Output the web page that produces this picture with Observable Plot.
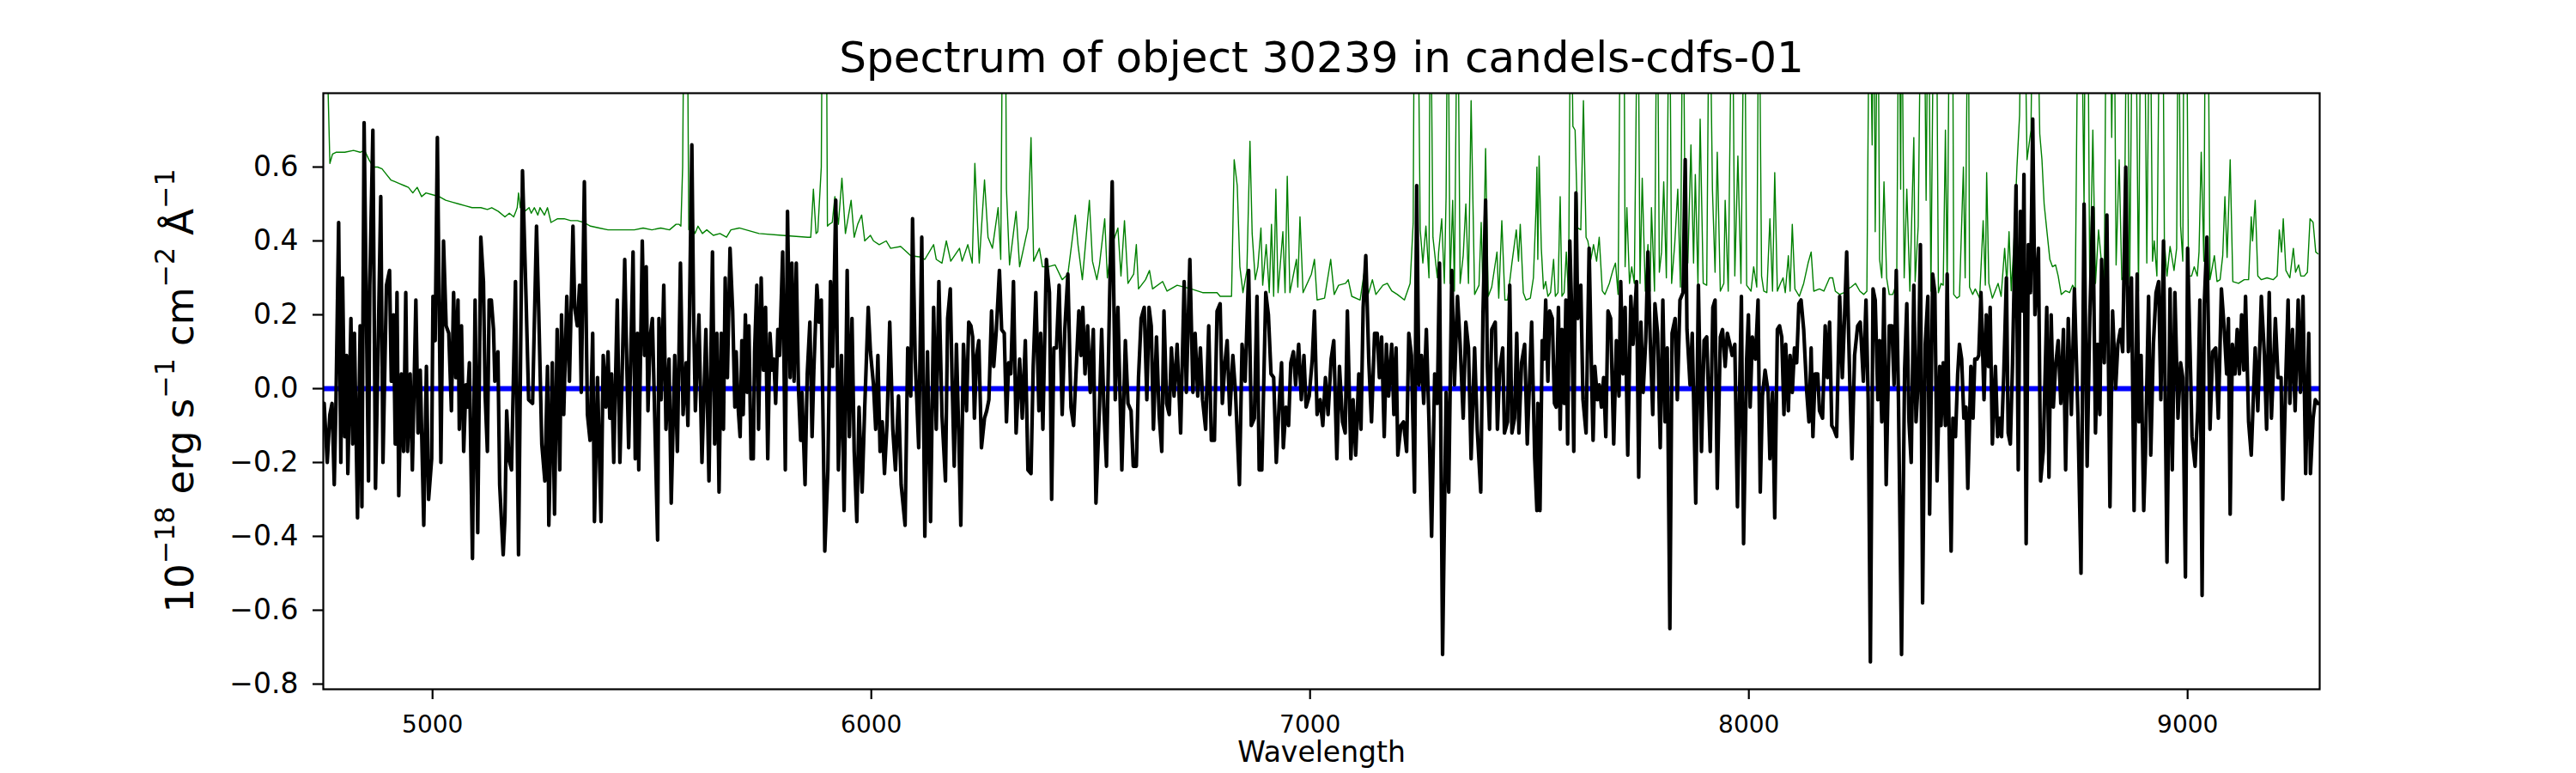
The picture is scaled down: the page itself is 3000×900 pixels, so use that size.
<!DOCTYPE html>
<html>
<head>
<meta charset="utf-8">
<script src="https://cdn.jsdelivr.net/npm/d3@7"></script>
<script src="https://cdn.jsdelivr.net/npm/@observablehq/plot@0.6"></script>
<style>
  html, body { margin: 0; padding: 0; background: #fff; }
  #chart svg { display: block; }
</style>
</head>
<body>
<div id="chart"></div>
<script>
// ---- Text ----
const titleText = ["Spectrum of object 30239 in candels-cdfs-01"];
const xLabelText = ["Wavelength"];

// ---- Ticks ----
const xTicks = [5000, 6000, 7000, 8000, 9000];
const yTicks = [-0.8, -0.6, -0.4, -0.2, 0.0, 0.2, 0.4, 0.6];
const xDomain = [4751, 9301];
const yDomain = [-0.814, 0.80];
const zeroLevel = [0];

// ---- Flux spectrum (black), [wavelength Å, flux] ----
const fluxA = [[4753,-0.04],[4760,-0.20],[4766,-0.07],[4771,-0.04],[4776,-0.26],[4780,-0.03],[4786,0.45],[4791,-0.20],[4795,0.30],[4800,-0.13],[4804,0.09],[4807,-0.23],[4814,0.19],[4818,-0.15],[4822,0.15],[4829,-0.35],[4835,0.17],[4839,-0.32],[4844,0.72],[4850,0.13],[4854,-0.25],[4857,0.28],[4864,0.70],[4870,-0.27],[4877,0.18],[4882,0.52],[4887,-0.20],[4895,0.28],[4902,0.32],[4906,0.02],[4911,0.20],[4915,-0.15],[4919,0.26],[4923,-0.29],[4929,0.04],[4934,-0.17],[4939,0.26],[4943,-0.17],[4949,0.04],[4954,-0.22],[4962,0.24],[4967,-0.12],[4972,0.05],[4980,-0.37],[4986,0.06],[4991,-0.30],[4998,-0.19],[5001,0.25],[5006,0.13],[5011,0.68],[5019,-0.20],[5025,0.40],[5031,0.17],[5037,0.15],[5043,-0.06],[5048,0.26],[5053,0.03],[5058,0.24],[5061,-0.11],[5066,0.17],[5071,-0.17],[5076,0.01],[5079,-0.05],[5084,0.07],[5091,-0.46],[5097,0.24],[5103,-0.39],[5110,0.41],[5116,0.29],[5120,-0.02],[5125,-0.17],[5129,0.24],[5134,0.24],[5139,0.16],[5142,0.02],[5149,0.10],[5153,-0.26],[5161,-0.45],[5165,-0.35],[5169,-0.06],[5174,-0.19],[5180,-0.22],[5189,0.29],[5196,-0.45],[5205,0.59],[5213,0.25],[5219,-0.03],[5228,-0.04],[5237,0.44],[5242,0.21],[5249,-0.15],[5256,-0.25],[5262,0.06],[5265,-0.37],[5273,0.07],[5278,-0.34],[5284,0.16],[5290,-0.22],[5294,0.20],[5299,-0.07],[5306,0.25],[5312,0.02],[5320,0.44],[5324,0.22],[5330,0.17],[5335,0.28],[5339,-0.01],[5346,0.56],[5353,-0.07],[5359,-0.14],[5365,0.15],[5369,-0.36],[5376,0.03],[5384,-0.36],[5389,0.09],[5395,-0.05],[5400,0.10],[5404,-0.08],[5408,0.04],[5413,-0.20],[5421,0.24],[5427,-0.20],[5432,0.03],[5438,0.35],[5443,0.05],[5447,-0.16],[5457,0.37],[5462,-0.19],[5467,0.15],[5470,-0.22],[5478,0.40],[5483,0.09],[5487,0.33],[5491,-0.06],[5496,0.14],[5501,0.19],[5506,-0.06],[5513,-0.41],[5516,0.19],[5521,-0.03],[5527,0.28],[5532,-0.11],[5539,0.08],[5544,-0.31],[5552,0.09],[5558,-0.17],[5565,0.34],[5571,-0.07],[5578,0.07],[5582,-0.10],[5591,0.66],[5595,0.20],[5599,-0.06],[5607,0.20],[5614,-0.20],[5623,0.16],[5630,-0.25],[5638,0.37],[5643,-0.15],[5648,0.15],[5653,-0.28],[5658,0.15],[5663,-0.11],[5667,0.30],[5672,0.03],[5678,0.38]];

const fluxB = [[5684,0.21],[5689,-0.05],[5692,0.10],[5697,-0.06],[5701,-0.13],[5705,0.13],[5708,-0.07],[5713,0.20],[5717,-0.01],[5721,0.17],[5726,-0.19],[5731,-0.19],[5734,0.10],[5739,0.28],[5743,-0.11],[5749,0.30],[5754,0.05],[5759,0.22],[5764,-0.19],[5769,0.15],[5774,0.05],[5778,0.08],[5782,-0.04],[5787,0.16],[5791,0.09],[5798,0.37],[5804,-0.22],[5809,0.48],[5815,0.03],[5819,0.34],[5824,0.02],[5829,0.34],[5834,0.00],[5839,-0.14],[5842,-0.01],[5849,-0.26],[5854,0.04],[5860,0.18],[5865,-0.13],[5869,0.05],[5876,0.28],[5881,0.18],[5886,0.24],[5891,-0.17],[5894,-0.44],[5901,-0.22],[5907,0.29],[5912,0.06],[5919,0.51],[5925,-0.22],[5932,0.09],[5938,-0.33],[5945,0.32],[5950,-0.13],[5956,0.19],[5961,-0.17],[5967,-0.36],[5972,-0.05],[5979,-0.28],[5985,-0.05],[5993,0.22],[5998,0.10],[6005,0.01],[6010,-0.11],[6015,0.09],[6020,-0.17],[6025,-0.09],[6030,-0.23],[6036,-0.09],[6042,0.18],[6049,-0.11],[6055,-0.22],[6062,-0.02],[6068,-0.26],[6077,-0.37],[6083,0.11],[6090,-0.02],[6094,0.46],[6100,0.08],[6108,-0.16],[6115,0.41],[6122,-0.40],[6128,0.10],[6135,-0.36],[6142,0.22],[6148,-0.11],[6154,0.29],[6161,-0.07],[6169,-0.25],[6174,0.19],[6180,0.27],[6184,0.03],[6189,-0.21],[6194,0.12],[6199,-0.11],[6204,-0.37],[6210,0.12],[6217,-0.06],[6222,0.18],[6227,0.17],[6231,0.14],[6235,-0.08],[6240,0.09],[6245,0.13],[6251,-0.16],[6258,-0.08],[6263,-0.06],[6268,-0.03],[6274,0.21],[6279,0.06],[6285,0.16],[6292,0.32],[6297,0.16],[6303,0.15],[6308,-0.09],[6313,0.07],[6318,0.04],[6324,0.29],[6330,-0.12],[6338,0.08],[6344,-0.08],[6351,0.13],[6357,-0.22],[6364,-0.23],[6369,0.06],[6375,0.26],[6382,-0.06],[6386,0.15],[6391,-0.11],[6399,0.35],[6406,0.26],[6411,-0.30],[6416,0.11],[6422,0.11],[6428,0.28],[6435,-0.07],[6441,0.16],[6448,0.31],[6455,-0.05],[6461,-0.10],[6468,0.08],[6473,0.21],[6478,0.09],[6482,0.22],[6487,0.04],[6493,0.17],[6499,-0.01],[6506,0.16],[6512,-0.31],[6520,-0.05],[6525,0.16],[6530,-0.05],[6536,-0.21],[6543,0.24],[6549,0.56],[6556,-0.03],[6562,0.22],[6571,-0.22],[6579,0.13],[6585,-0.04],[6592,-0.06],[6597,-0.21]];

const fluxC = [[6604,-0.21],[6609,0.03],[6615,0.19],[6622,0.22],[6628,-0.03],[6633,0.22],[6638,0.17],[6643,-0.11],[6650,0.14],[6656,-0.07],[6662,-0.17],[6667,0.21],[6673,-0.04],[6679,-0.07],[6684,0.11],[6690,-0.02],[6697,0.12],[6705,-0.12],[6713,0.29],[6718,-0.01],[6726,0.35],[6733,-0.01],[6738,0.15],[6744,-0.02],[6750,0.11],[6755,-0.03],[6762,-0.11],[6769,0.17],[6775,-0.14],[6782,-0.14],[6788,0.21],[6795,0.23],[6800,-0.04],[6806,0.07],[6811,0.13],[6817,-0.07],[6824,0.09],[6830,-0.01],[6839,-0.26],[6845,0.12],[6852,0.02],[6860,0.32],[6866,-0.10],[6873,-0.08],[6879,0.25],[6884,-0.22],[6890,-0.22],[6899,0.26],[6905,0.20],[6911,0.04],[6917,0.03],[6923,-0.20],[6930,-0.03],[6935,0.07],[6939,-0.16],[6945,-0.05],[6951,-0.10],[6956,0.07],[6962,0.10],[6967,0.01],[6974,0.12],[6980,-0.03],[6986,0.09],[6991,-0.05],[6998,-0.02],[7005,0.08],[7010,0.21],[7016,-0.07],[7023,-0.03],[7029,-0.10],[7035,0.03],[7041,-0.07],[7048,0.08],[7054,0.13],[7061,-0.19],[7067,0.06],[7074,-0.09],[7080,-0.12],[7085,0.21],[7093,-0.19],[7098,-0.03],[7104,-0.18],[7111,0.04],[7116,-0.11],[7121,0.22],[7127,0.36],[7134,0.07],[7140,-0.09],[7147,0.15],[7153,0.15],[7158,0.03],[7163,0.14],[7169,-0.13],[7174,0.12],[7179,-0.02],[7186,0.12],[7191,-0.07],[7196,0.11],[7200,-0.18],[7207,-0.10],[7213,-0.09],[7220,-0.17],[7225,0.15],[7231,0.09],[7238,-0.28],[7243,0.55],[7248,0.01],[7254,0.09],[7259,-0.04],[7265,0.16],[7271,-0.09],[7277,-0.40],[7284,0.04],[7290,-0.04],[7295,0.34],[7302,-0.72],[7310,-0.01],[7316,-0.28],[7323,0.32],[7329,0.01],[7336,0.25],[7342,0.12],[7349,-0.08],[7355,0.18],[7361,0.11],[7367,-0.19],[7375,0.11],[7381,-0.11],[7389,-0.28],[7394,0.20],[7400,0.51],[7404,0.06],[7409,-0.11],[7414,0.16],[7422,0.18],[7427,-0.11],[7432,0.05],[7439,0.11],[7443,-0.12],[7450,-0.09],[7455,0.28],[7460,-0.12],[7466,-0.08],[7471,0.15],[7476,-0.12],[7482,0.07],[7489,0.12],[7495,-0.15],[7505,0.18],[7512,-0.19],[7517,-0.33]];

const fluxD = [[7519,-0.04],[7524,-0.33],[7529,0.13],[7533,0.08],[7537,0.24],[7542,0.02],[7546,0.21],[7552,0.19],[7557,-0.04],[7561,-0.05],[7566,0.22],[7570,-0.11],[7574,0.16],[7579,-0.04],[7583,0.24],[7587,-0.15],[7592,0.40],[7596,0.22],[7601,-0.17],[7606,0.53],[7610,0.19],[7617,0.28],[7622,-0.03],[7629,-0.12],[7636,0.38],[7642,0.01],[7645,-0.14],[7649,0.06],[7655,-0.03],[7659,0.01],[7664,-0.05],[7669,0.03],[7674,-0.13],[7679,0.21],[7685,0.19],[7692,-0.15],[7698,0.13],[7704,-0.02],[7708,0.29],[7713,0.04],[7718,0.22],[7724,-0.18],[7731,0.25],[7736,0.12],[7744,0.29],[7749,-0.24],[7754,0.18],[7759,-0.01],[7765,0.13],[7770,0.37],[7775,0.14],[7781,-0.07],[7786,0.23],[7792,0.15],[7798,-0.16],[7804,0.24],[7809,-0.09],[7814,0.11],[7820,-0.65],[7825,0.15],[7832,0.19],[7837,-0.03],[7843,0.24],[7850,0.26],[7855,0.62],[7859,0.16],[7866,0.01],[7871,0.15],[7879,-0.31],[7885,0.28],[7892,-0.17],[7898,0.13],[7904,0.14],[7912,-0.17],[7918,0.22],[7923,0.24],[7928,-0.27],[7935,0.14],[7940,0.16],[7946,0.06],[7951,0.15],[7957,0.12],[7962,0.09],[7968,0.12],[7974,-0.32],[7983,0.25],[7988,-0.42],[7995,0.08],[7999,0.20],[8003,-0.05],[8008,0.14],[8015,0.08],[8021,0.24],[8026,-0.28],[8031,-0.02],[8037,0.05],[8044,-0.01],[8048,-0.19],[8054,-0.01],[8059,-0.35],[8065,0.16],[8070,0.17],[8075,0.14],[8080,-0.07],[8084,0.12],[8090,-0.06],[8094,0.09],[8099,-0.01],[8104,0.11],[8109,0.07],[8114,0.23],[8119,0.24],[8125,0.16],[8132,-0.01],[8137,-0.09],[8142,0.11],[8146,-0.13],[8151,0.04],[8157,0.04],[8161,-0.06],[8168,-0.08],[8174,0.17],[8179,0.03],[8184,0.18],[8189,-0.10],[8194,-0.11],[8200,-0.13],[8207,0.25],[8213,0.03],[8218,0.19],[8223,0.37],[8230,0.02],[8235,-0.19],[8241,0.09],[8248,0.17],[8254,0.18],[8261,0.02],[8267,0.24],[8272,-0.03],[8277,-0.74],[8283,0.27],[8288,0.24],[8294,-0.03],[8298,0.13],[8303,-0.09],[8308,0.27],[8313,-0.26],[8320,0.17],[8326,0.17],[8331,0.01],[8336,0.32],[8341,-0.03],[8348,-0.72],[8355,0.05],[8360,0.23],[8365,-0.09],[8370,-0.20],[8376,0.28],[8381,-0.09],[8386,0.02],[8391,0.39],[8396,-0.58],[8402,0.12],[8408,0.25],[8412,-0.34],[8419,0.31],[8424,0.26],[8429,-0.25],[8435,0.06]];

const fluxE = [[8438,-0.10],[8443,0.07],[8448,-0.10],[8452,0.31],[8456,-0.08],[8461,-0.44],[8465,-0.08],[8471,-0.13],[8476,0.04],[8480,0.12],[8485,0.08],[8490,-0.08],[8495,-0.05],[8499,-0.27],[8503,-0.09],[8506,0.06],[8511,-0.08],[8515,0.08],[8520,0.08],[8524,0.09],[8529,0.26],[8536,-0.03],[8541,0.20],[8546,0.06],[8550,0.22],[8555,-0.15],[8562,0.06],[8567,-0.13],[8572,-0.08],[8576,-0.13],[8581,0.04],[8587,0.30],[8591,-0.12],[8596,-0.15],[8601,0.07],[8609,0.55],[8614,-0.22],[8619,0.48],[8624,0.21],[8627,0.58],[8632,-0.42],[8637,0.39],[8642,0.26],[8647,0.73],[8652,0.20],[8660,0.38],[8665,-0.25],[8671,-0.17],[8679,0.22],[8684,-0.24],[8689,0.20],[8694,-0.05],[8699,0.06],[8705,0.13],[8711,-0.04],[8717,0.16],[8722,-0.22],[8728,0.19],[8735,-0.07],[8742,0.27],[8750,-0.07],[8757,-0.50],[8764,0.50],[8771,-0.21],[8777,0.19],[8784,0.49],[8790,-0.12],[8795,0.12],[8800,-0.07],[8804,0.35],[8810,0.07],[8816,0.47],[8823,-0.32],[8829,0.21],[8836,0.00],[8841,0.12],[8847,0.16],[8852,0.10],[8859,0.60],[8865,0.10],[8872,0.30],[8878,-0.33],[8885,0.31],[8889,-0.09],[8894,0.09],[8900,-0.33],[8904,-0.17],[8911,0.25],[8916,-0.18],[8922,0.12],[8928,0.26],[8934,0.29],[8939,-0.03],[8945,0.40],[8953,-0.47],[8960,0.27],[8965,-0.22],[8971,0.26],[8978,-0.08],[8984,0.07],[8989,0.03],[8995,-0.51],[9000,0.38],[9007,0.03],[9010,-0.13],[9017,-0.21],[9023,-0.06],[9028,0.24],[9033,-0.56],[9038,0.23],[9044,0.41],[9051,-0.11],[9057,0.10],[9064,0.11],[9070,-0.08],[9077,0.27],[9083,0.17],[9089,0.04],[9093,0.19],[9097,-0.34],[9102,0.12],[9108,0.04],[9113,0.16],[9118,0.04],[9123,0.20],[9128,0.05],[9132,0.25],[9139,-0.09],[9145,-0.18],[9154,0.11],[9160,-0.06],[9168,0.25],[9175,0.09],[9180,-0.11],[9186,0.26],[9191,-0.08],[9200,0.19],[9206,0.03],[9213,0.03],[9217,-0.30],[9224,0.04],[9229,0.24],[9233,-0.04],[9239,0.16],[9245,-0.06],[9252,0.24],[9257,-0.01],[9263,0.25],[9269,-0.23],[9276,0.15],[9280,-0.23],[9286,-0.08],[9291,-0.03],[9297,-0.04]];

// ---- Error spectrum (green), [wavelength Å, error]; sky-line peaks run past the top ----
const errA = [[4752,1.2],[4760,0.9],[4766,0.61],[4772,0.635],[4780,0.64],[4800,0.64],[4820,0.645],[4835,0.64],[4845,0.645],[4855,0.62],[4865,0.60],[4875,0.60],[4885,0.595],[4895,0.58],[4905,0.565],[4915,0.56],[4925,0.555],[4935,0.55],[4945,0.545],[4955,0.53],[4965,0.545],[4975,0.52],[4985,0.53],[5000,0.525],[5015,0.52],[5030,0.51],[5045,0.505],[5060,0.50],[5075,0.495],[5090,0.49],[5110,0.49],[5125,0.485],[5135,0.49],[5150,0.48],[5165,0.465],[5175,0.475],[5185,0.465],[5190,0.48],[5193,0.49],[5196,0.53],[5200,0.49],[5210,0.48],[5220,0.49],[5225,0.475],[5232,0.49],[5240,0.47],[5245,0.49],[5255,0.47],[5262,0.49],[5270,0.45],[5285,0.46],[5300,0.46],[5315,0.455],[5330,0.455],[5345,0.45],[5360,0.44],[5380,0.435],[5400,0.43],[5420,0.43],[5440,0.43],[5460,0.43],[5480,0.435],[5500,0.43],[5520,0.435],[5540,0.43],[5555,0.445],[5562,0.445],[5566,0.44],[5570,0.60],[5574,1.2],[5580,1.2],[5584,0.43],[5590,0.45],[5598,0.42],[5605,0.44],[5615,0.42],[5625,0.43],[5640,0.415],[5655,0.42],[5670,0.41],[5680,0.43]];

const errB = [[5699,0.435],[5744,0.42],[5796,0.415],[5855,0.41],[5862,0.41],[5868,0.54],[5874,0.42],[5878,0.425],[5886,0.60],[5889,1.2],[5897,1.2],[5900,0.44],[5904,0.445],[5911,0.45],[5917,0.52],[5925,0.445],[5933,0.57],[5941,0.42],[5954,0.51],[5961,0.41],[5969,0.445],[5978,0.47],[5985,0.40],[5998,0.415],[6005,0.40],[6018,0.39],[6034,0.40],[6044,0.38],[6067,0.385],[6090,0.36],[6109,0.357],[6122,0.35],[6142,0.39],[6148,0.35],[6161,0.34],[6171,0.40],[6181,0.345],[6201,0.38],[6207,0.345],[6220,0.39],[6230,0.34],[6236,0.61],[6246,0.34],[6258,0.565],[6266,0.41],[6276,0.38],[6289,0.49],[6295,0.35],[6300,1.2],[6305,1.2],[6308,0.54],[6315,0.335],[6330,0.48],[6338,0.33],[6357,0.435],[6364,0.68],[6370,0.345],[6383,0.38],[6390,0.33],[6403,0.33],[6419,0.335],[6435,0.295],[6448,0.31],[6465,0.47],[6471,0.39],[6481,0.295],[6497,0.51],[6504,0.345],[6514,0.295],[6520,0.335],[6532,0.46],[6538,0.30],[6546,0.38],[6562,0.435],[6569,0.305],[6577,0.455],[6585,0.285],[6598,0.31]];

const errC = [[6604,0.39],[6609,0.27],[6625,0.295],[6634,0.32],[6641,0.27],[6664,0.29],[6674,0.264],[6697,0.28],[6729,0.27],[6755,0.26],[6788,0.26],[6795,0.25],[6821,0.25],[6827,0.62],[6834,0.55],[6840,0.33],[6847,0.26],[6856,0.32],[6863,0.67],[6868,0.42],[6875,0.295],[6881,0.33],[6888,0.435],[6892,0.28],[6900,0.39],[6907,0.26],[6912,0.445],[6917,0.25],[6922,0.54],[6927,0.26],[6938,0.425],[6943,0.26],[6948,0.575],[6954,0.26],[6969,0.35],[6972,0.275],[6977,0.465],[6984,0.26],[7003,0.31],[7010,0.35],[7016,0.24],[7033,0.245],[7047,0.35],[7055,0.255],[7065,0.28],[7081,0.285],[7087,0.295],[7095,0.25],[7114,0.24],[7124,0.32],[7130,0.245],[7142,0.295],[7150,0.255],[7166,0.28],[7176,0.285],[7186,0.265],[7199,0.255],[7215,0.24],[7228,0.285],[7235,0.45],[7238,1.2],[7245,1.2],[7251,0.43],[7257,0.34],[7264,0.44],[7271,0.30],[7274,1.2],[7280,0.41],[7290,0.30],[7293,0.37],[7300,0.46],[7306,0.285],[7310,0.52],[7314,1.2],[7319,0.285],[7325,0.51],[7329,0.264],[7336,1.2],[7342,0.285],[7349,0.36],[7355,0.50],[7361,0.285],[7367,0.78],[7375,0.255],[7385,0.28],[7390,0.45],[7394,0.26],[7400,0.65],[7406,0.25],[7414,0.275],[7426,0.37],[7430,0.245],[7437,0.455],[7444,0.24],[7450,0.24],[7460,0.34],[7470,0.43],[7475,0.345],[7479,0.445],[7486,0.26],[7492,0.24],[7502,0.245],[7509,0.30],[7515,0.49],[7517,0.6]];

const errD = [[7519,0.35],[7522,0.63],[7527,0.38],[7532,0.27],[7537,0.29],[7542,0.25],[7548,0.26],[7555,0.35],[7559,0.25],[7565,0.26],[7570,0.52],[7574,0.25],[7579,0.26],[7584,0.37],[7589,0.25],[7594,1.2],[7599,0.71],[7604,0.70],[7610,0.435],[7617,0.43],[7623,0.78],[7629,0.41],[7633,0.40],[7640,0.35],[7646,0.39],[7653,0.345],[7659,0.41],[7666,0.265],[7672,0.255],[7682,0.285],[7690,0.32],[7696,0.34],[7702,0.255],[7708,1.2],[7715,1.2],[7718,0.33],[7722,0.49],[7728,0.285],[7733,0.33],[7739,0.285],[7747,1.2],[7752,0.285],[7757,0.57],[7764,0.264],[7770,0.39],[7775,0.264],[7778,0.49],[7785,0.264],[7791,1.2],[7796,0.315],[7801,0.37],[7806,0.56],[7812,0.30],[7819,1.2],[7824,0.285],[7831,0.39],[7838,0.54],[7844,0.275],[7850,1.2],[7855,0.39],[7861,0.34],[7868,0.66],[7874,0.34],[7878,0.58],[7884,0.285],[7889,0.73],[7896,0.285],[7904,0.28],[7910,1.2],[7917,0.54],[7923,0.315],[7928,0.64],[7935,0.264],[7943,0.285],[7946,0.51],[7953,0.264],[7962,1.2],[7968,0.305],[7975,0.63],[7982,0.285],[7990,1.2],[7995,0.28],[8005,0.264],[8011,0.33],[8018,0.275],[8023,1.2],[8029,0.305],[8034,0.264],[8041,0.26],[8048,0.46],[8054,0.264],[8059,0.585],[8065,0.264],[8072,0.285],[8078,0.30],[8083,0.26],[8090,0.36],[8094,0.264],[8099,0.445],[8105,0.27],[8115,0.25],[8125,0.285],[8135,0.34],[8142,0.37],[8148,0.264],[8161,0.27],[8171,0.264],[8184,0.30],[8191,0.30],[8197,0.264],[8207,0.255],[8217,0.26],[8226,0.27],[8233,0.275],[8243,0.285],[8253,0.264],[8262,0.255],[8269,0.264],[8275,1.2],[8281,0.66],[8285,1.2],[8288,0.425],[8294,1.2],[8298,0.35],[8303,0.30],[8308,0.56],[8314,0.30],[8320,0.255],[8328,0.255],[8337,0.285],[8342,1.2],[8346,0.54],[8348,1.2],[8354,0.30],[8360,0.54],[8367,0.264],[8376,0.68],[8379,0.29],[8386,0.44],[8393,1.2],[8399,1.2],[8404,0.51],[8409,1.2],[8415,0.264],[8422,1.2],[8427,1.2],[8432,0.26],[8438,0.285]];

const errE = [[8443,0.28],[8448,0.70],[8452,0.275],[8458,1.2],[8464,1.2],[8467,0.255],[8474,0.245],[8480,0.25],[8489,0.60],[8493,0.30],[8500,1.2],[8503,0.275],[8510,0.255],[8516,0.27],[8526,0.245],[8534,0.455],[8539,0.28],[8542,0.585],[8547,0.285],[8555,0.245],[8568,0.285],[8575,0.25],[8583,0.38],[8588,0.285],[8593,0.425],[8598,0.265],[8604,0.39],[8611,0.60],[8617,0.74],[8622,1.2],[8627,1.2],[8634,0.62],[8643,0.70],[8648,1.2],[8656,1.2],[8663,0.69],[8668,0.62],[8673,0.50],[8679,0.43],[8686,0.35],[8692,0.33],[8699,0.335],[8705,0.305],[8712,0.255],[8722,0.265],[8731,0.26],[8738,0.28],[8744,0.265],[8751,1.2],[8757,1.2],[8764,0.49],[8767,1.2],[8772,1.2],[8777,0.265],[8784,0.70],[8790,0.285],[8797,0.43],[8803,0.35],[8810,0.275],[8815,1.2],[8823,1.2],[8827,0.68],[8832,1.2],[8837,0.335],[8844,0.62],[8850,0.295],[8855,0.305],[8862,1.2],[8868,0.285],[8875,1.2],[8881,1.2],[8888,0.264],[8894,1.2],[8901,1.2],[8907,0.34],[8914,1.2],[8920,0.345],[8924,0.40],[8930,0.305],[8937,1.2],[8943,1.2],[8947,0.40],[8953,0.305],[8960,0.385],[8965,0.35],[8969,0.32],[8975,0.38],[8979,1.2],[8984,0.44],[8989,0.345],[8992,1.2],[8997,1.2],[9002,0.305],[9009,0.305],[9015,0.33],[9022,0.305],[9026,0.37],[9031,0.64],[9037,0.345],[9041,1.2],[9046,1.2],[9051,0.295],[9061,0.36],[9067,0.29],[9074,0.295],[9080,0.36],[9085,0.52],[9090,0.355],[9097,0.62],[9103,0.29],[9116,0.285],[9129,0.295],[9139,0.295],[9145,0.465],[9148,0.40],[9154,0.51],[9160,0.305],[9168,0.295],[9181,0.30],[9195,0.295],[9204,0.305],[9209,0.43],[9214,0.37],[9218,0.46],[9224,0.32],[9233,0.30],[9241,0.38],[9246,0.315],[9253,0.335],[9258,0.305],[9266,0.305],[9273,0.315],[9279,0.46],[9286,0.45],[9292,0.37],[9297,0.365]];

// ---- Build tables ----
const flux = [...fluxA, ...fluxB, ...fluxC, ...fluxD, ...fluxE].map(([w, f]) => ({w, f}));
const err = [...errA, ...errB, ...errC, ...errD, ...errE].map(([w, e]) => ({w, e}));

const FONT = "DejaVu Sans";

const chart = Plot.plot({
  width: 3000,
  height: 900,
  marginLeft: 376,
  marginRight: 299,
  marginTop: 108,
  marginBottom: 98,
  style: {fontFamily: FONT, background: "#ffffff", color: "#000000"},
  x: {domain: xDomain, label: null},
  y: {domain: yDomain, label: null},
  marks: [
    Plot.line(err, {x: "w", y: "e", stroke: "#008000", strokeWidth: 1.4, clip: true, strokeLinejoin: "round"}),
    Plot.ruleY(zeroLevel, {stroke: "#0000ff", strokeWidth: 6}),
    Plot.line(flux, {x: "w", y: "f", stroke: "#000000", strokeWidth: 4.2, clip: true, strokeLinejoin: "round"}),
    Plot.frame({stroke: "#000000", strokeWidth: 2.2}),
    Plot.axisX(xTicks, {tickSize: 12, tickPadding: 19, fontSize: 28, strokeWidth: 2.2, tickFormat: "d", label: null}),
    Plot.axisY(yTicks, {tickSize: 12, tickPadding: 17, fontSize: 33, strokeWidth: 2.2, tickFormat: d3.format(".1f"), label: null}),
    Plot.text(titleText, {frameAnchor: "top", dy: -25, lineAnchor: "bottom", fontSize: 50, text: d => d, fill: "#000000"}),
    Plot.text(xLabelText, {frameAnchor: "bottom", dy: 84, lineAnchor: "bottom", fontSize: 33, text: d => d, fill: "#000000"})
  ]
});

document.getElementById("chart").appendChild(chart);

// Y-axis label with superscripts (mathtext-like)
const yl = d3.select(chart).append("text")
  .attr("transform", "translate(225,455) rotate(-90)")
  .attr("text-anchor", "middle")
  .attr("font-family", FONT)
  .attr("font-size", 45)
  .attr("fill", "#000000")
  .style("white-space", "pre");
const parts = [
  ["10", false], ["\u221218", true], [" erg s", false], ["\u22121", true],
  [" cm", false], ["\u22122", true], [" \u00C5", false], ["\u22121", true]
];
let raised = false;
for (const [t, sup] of parts) {
  const ts = yl.append("tspan").text(t);
  if (sup && !raised) { ts.attr("dy", -22).attr("font-size", 31.5); raised = true; }
  else if (sup) { ts.attr("font-size", 31.5); }
  else if (!sup && raised) { ts.attr("dy", 22); raised = false; }
}
</script>
</body>
</html>
